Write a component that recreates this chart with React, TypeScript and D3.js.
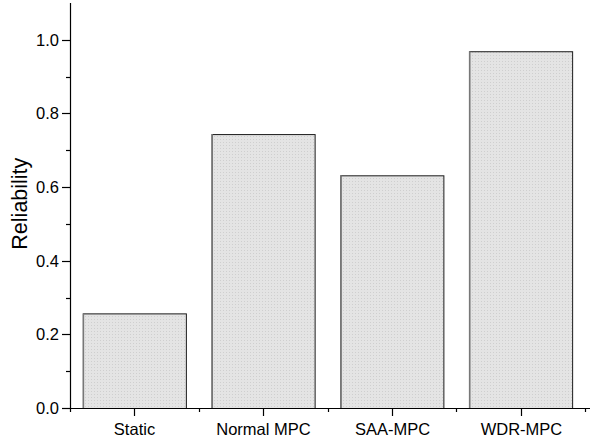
import React, { useEffect, useRef } from 'react';
import * as d3 from 'd3';

const categories = ['Static', 'Normal MPC', 'SAA-MPC', 'WDR-MPC'];
const reliability = [0.257, 0.744, 0.632, 0.969];
const majorTicks = [0, 0.2, 0.4, 0.6, 0.8, 1.0];
const minorTicks = [0.1, 0.3, 0.5, 0.7, 0.9];

const App: React.FC = () => {
  const svgRef = useRef<SVGSVGElement>(null);

  useEffect(() => {
    if (!svgRef.current) return;
    const svg = d3.select(svgRef.current);
    svg.selectAll('*').remove();

    const x0 = 70;
    const x1 = 585;
    const yBottom = 408;
    const yTop = 3;
    const font = 'Liberation Sans, Arial, sans-serif';

    const xScale = d3.scaleBand<string>()
      .domain(categories)
      .range([x0, x1])
      .paddingInner(0.2)
      .paddingOuter(0.1);

    const yScale = d3.scaleLinear()
      .domain([0, 1.1])
      .range([yBottom, yTop]);

    const defs = svg.append('defs');
    const pat = defs.append('pattern')
      .attr('id', 'dots')
      .attr('width', 3)
      .attr('height', 3)
      .attr('patternUnits', 'userSpaceOnUse');
    pat.append('rect').attr('width', 3).attr('height', 3).attr('fill', '#e4e4e4');
    pat.append('rect').attr('x', 1).attr('y', 1).attr('width', 1).attr('height', 1).attr('fill', '#cfcfcf');

    // bars
    categories.forEach((c, i) => {
      const bx = xScale(c)!;
      const bw = xScale.bandwidth();
      const by = yScale(reliability[i]);
      svg.append('rect')
        .attr('x', bx + 0.5)
        .attr('y', by + 0.5)
        .attr('width', bw)
        .attr('height', yBottom - by)
        .attr('fill', 'url(#dots)')
        .attr('stroke', '#1a1a1a')
        .attr('stroke-width', 1);
      svg.append('line')
        .attr('x1', bx + 0.5).attr('x2', bx + 0.5)
        .attr('y1', by).attr('y2', yBottom)
        .attr('stroke', '#777').attr('stroke-width', 1.5);
    });

    // axes
    svg.append('line')
      .attr('x1', x0 + 0.5).attr('x2', x0 + 0.5)
      .attr('y1', yTop).attr('y2', yBottom + 0.5)
      .attr('stroke', '#000').attr('stroke-width', 1.2);
    svg.append('line')
      .attr('x1', x0).attr('x2', 590)
      .attr('y1', yBottom + 0.5).attr('y2', yBottom + 0.5)
      .attr('stroke', '#000').attr('stroke-width', 1.2);

    majorTicks.forEach(t => {
      const y = Math.round(yScale(t)) + 0.5;
      svg.append('line')
        .attr('x1', x0 - 8).attr('x2', x0)
        .attr('y1', y).attr('y2', y)
        .attr('stroke', '#000').attr('stroke-width', 1.2);
      svg.append('text')
        .attr('x', x0 - 11)
        .attr('y', y)
        .attr('dy', '0.35em')
        .attr('text-anchor', 'end')
        .attr('font-family', font)
        .attr('font-size', 16.5)
        .attr('fill', '#000')
        .text(d3.format('.1f')(t));
    });
    minorTicks.forEach(t => {
      const y = Math.round(yScale(t)) + 0.5;
      svg.append('line')
        .attr('x1', x0 - 4).attr('x2', x0)
        .attr('y1', y).attr('y2', y)
        .attr('stroke', '#000').attr('stroke-width', 1.2);
    });

    const step = xScale.step();
    categories.forEach(c => {
      const cx = Math.round(xScale(c)! + xScale.bandwidth() / 2) + 0.5;
      svg.append('line')
        .attr('x1', cx).attr('x2', cx)
        .attr('y1', yBottom).attr('y2', yBottom + 8)
        .attr('stroke', '#000').attr('stroke-width', 1.2);
      svg.append('text')
        .attr('x', cx)
        .attr('y', yBottom + 27)
        .attr('text-anchor', 'middle')
        .attr('font-family', font)
        .attr('font-size', 16.5)
        .attr('fill', '#000')
        .text(c);
    });
    d3.range(5).forEach(k => {
      const bx = Math.round(x0 + k * step) + 0.5;
      svg.append('line')
        .attr('x1', bx).attr('x2', bx)
        .attr('y1', yBottom).attr('y2', yBottom + 4)
        .attr('stroke', '#000').attr('stroke-width', 1.2);
    });

    svg.append('text')
      .attr('transform', `translate(27,${yScale(0.555)}) rotate(-90)`)
      .attr('text-anchor', 'middle')
      .attr('font-family', font)
      .attr('font-size', 21.5)
      .attr('fill', '#000')
      .text('Reliability');
  }, []);

  return (
    <svg ref={svgRef} width={590} height={440}
      style={{ position: 'absolute', left: 0, top: 0, background: '#fff' }} />
  );
};

export default App;
